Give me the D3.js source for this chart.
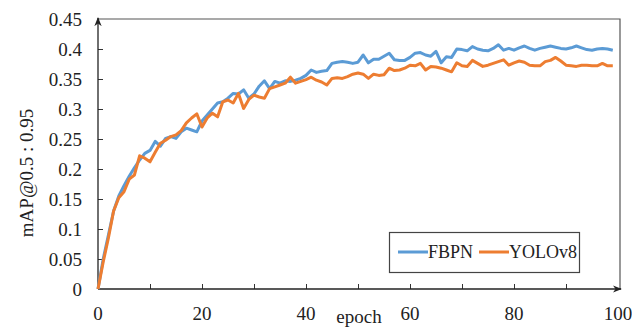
<!DOCTYPE html>
<html>
<head>
<meta charset="utf-8">
<script src="https://cdn.jsdelivr.net/npm/d3@7"></script>
<style>
  body { margin: 0; background: #fff; }
  text { font-family: "Liberation Serif", "Times New Roman", serif; fill: #222; }
</style>
</head>
<body>
<svg width="632" height="328"></svg>
<script>
// mAP@0.5:0.95 per epoch
var fbpn = [0, 0.05, 0.09, 0.13, 0.155, 0.172, 0.188, 0.202, 0.215, 0.226,
    0.231, 0.246, 0.238, 0.251, 0.254, 0.251, 0.262, 0.268, 0.265, 0.262,
    0.28, 0.29, 0.3, 0.31, 0.312, 0.318, 0.326, 0.325, 0.332, 0.318,
    0.325, 0.338, 0.347, 0.334, 0.346, 0.343, 0.347, 0.346, 0.348, 0.351,
    0.356, 0.365, 0.361, 0.363, 0.364, 0.376, 0.378, 0.379, 0.378, 0.376,
    0.378, 0.39, 0.377, 0.383, 0.383, 0.388, 0.393, 0.382, 0.381, 0.381,
    0.386, 0.393, 0.394, 0.39, 0.388, 0.396, 0.377, 0.387, 0.386, 0.4,
    0.399, 0.397, 0.404, 0.4, 0.398, 0.397, 0.401, 0.407, 0.398, 0.401,
    0.398, 0.402, 0.405, 0.401, 0.398, 0.401, 0.403, 0.405, 0.403, 0.401,
    0.4, 0.402, 0.405, 0.402, 0.399, 0.398, 0.4, 0.401, 0.4, 0.398];

var yolov8 = [0, 0.045, 0.085, 0.13, 0.152, 0.162, 0.183, 0.19, 0.222, 0.218,
    0.212, 0.228, 0.243, 0.248, 0.254, 0.257, 0.264, 0.277, 0.285, 0.292,
    0.27, 0.285, 0.293, 0.287, 0.312, 0.315, 0.31, 0.326, 0.301, 0.316,
    0.323, 0.32, 0.318, 0.334, 0.337, 0.34, 0.343, 0.353, 0.343, 0.346,
    0.349, 0.353, 0.348, 0.345, 0.34, 0.351, 0.352, 0.351, 0.354, 0.358,
    0.36, 0.358, 0.351, 0.358, 0.356, 0.357, 0.368, 0.364, 0.365, 0.368,
    0.373, 0.372, 0.376, 0.365, 0.371, 0.37, 0.368, 0.365, 0.362, 0.377,
    0.372, 0.371, 0.381, 0.376, 0.371, 0.373, 0.376, 0.379, 0.382, 0.373,
    0.377, 0.38, 0.378, 0.373, 0.372, 0.372, 0.379, 0.381, 0.386, 0.38,
    0.373, 0.372, 0.371, 0.373, 0.373, 0.372, 0.372, 0.376, 0.372, 0.372];

var seriesNames = ["FBPN", "YOLOv8"];
var seriesColors = ["#5b9bd5", "#ed7d31"];
var xTicks = [0, 20, 40, 60, 80, 100];
var yTicks = [0, 0.05, 0.1, 0.15, 0.2, 0.25, 0.3, 0.35, 0.4, 0.45];

var svg = d3.select("svg");
var plotL = 98, plotR = 618, plotT = 19, plotB = 289;

var x = d3.scaleLinear().domain([0, 100]).range([plotL, plotR]);
var y = d3.scaleLinear().domain([0, 0.45]).range([plotB, plotT]);

var defs = svg.append("defs");
defs.append("marker")
    .attr("id", "arrow")
    .attr("viewBox", "0 0 10 10")
    .attr("refX", 9).attr("refY", 5)
    .attr("markerWidth", 7).attr("markerHeight", 7)
    .attr("orient", "auto")
    .append("path")
    .attr("d", "M0,1 L10,5 L0,9 L3,5 Z")
    .attr("fill", "#222");

// frame: top and right
svg.append("path")
    .attr("d", "M" + plotL + "," + plotT + "H620V" + plotB)
    .attr("fill", "none")
    .attr("stroke", "#555")
    .attr("stroke-width", 1.2);

// y axis
var yAxis = d3.axisRight(y).tickValues(yTicks.slice(1, -1)).tickSize(5).tickFormat("");
var gy = svg.append("g").attr("transform", "translate(" + plotL + ",0)").call(yAxis);
gy.select(".domain").remove();
gy.selectAll("line").attr("stroke", "#333");

// x axis
var xAxis = d3.axisTop(x).tickValues(d3.range(10, 100, 10)).tickSize(5).tickFormat("");
var gx = svg.append("g").attr("transform", "translate(0," + plotB + ")").call(xAxis);
gx.select(".domain").remove();
gx.selectAll("line").attr("stroke", "#333");

svg.append("line")
    .attr("x1", plotL).attr("y1", plotB).attr("x2", plotL).attr("y2", plotT - 1)
    .attr("stroke", "#222").attr("stroke-width", 1.3)
    .attr("marker-end", "url(#arrow)");
svg.append("line")
    .attr("x1", plotL).attr("y1", plotB).attr("x2", 621).attr("y2", plotB)
    .attr("stroke", "#222").attr("stroke-width", 1.3)
    .attr("marker-end", "url(#arrow)");

// tick labels
svg.selectAll(".ylab")
    .data(yTicks)
    .enter().append("text")
    .attr("class", "ylab")
    .attr("x", 82)
    .attr("y", function(d) { return y(d); })
    .attr("dy", "0.35em")
    .attr("text-anchor", "end")
    .attr("font-size", 19)
    .text(function(d) { return d; });

svg.selectAll(".xlab")
    .data(xTicks)
    .enter().append("text")
    .attr("class", "xlab")
    .attr("x", function(d) { return x(d); })
    .attr("y", 320)
    .attr("text-anchor", "middle")
    .attr("font-size", 19)
    .text(function(d) { return d; });

svg.append("text")
    .attr("x", 359).attr("y", 323)
    .attr("text-anchor", "middle")
    .attr("font-size", 19)
    .text("epoch");

svg.append("text")
    .attr("transform", "translate(33,173) rotate(-90)")
    .attr("text-anchor", "middle")
    .attr("font-size", 19)
    .text("mAP@0.5 : 0.95");

// lines
var line = d3.line()
    .x(function(d, i) { return x(i); })
    .y(function(d) { return y(d); });

[fbpn, yolov8].forEach(function(vals, k) {
    svg.append("path")
        .datum(vals)
        .attr("fill", "none")
        .attr("stroke", seriesColors[k])
        .attr("stroke-width", 3)
        .attr("stroke-linejoin", "round")
        .attr("d", line);
});

// legend
var legend = svg.append("g");
legend.append("rect")
    .attr("x", 389.5).attr("y", 232.5)
    .attr("width", 190).attr("height", 40)
    .attr("fill", "#fff")
    .attr("stroke", "#444")
    .attr("stroke-width", 1.2);

var legendX = [398, 479];
seriesNames.forEach(function(name, k) {
    legend.append("line")
        .attr("x1", legendX[k]).attr("x2", legendX[k] + 30)
        .attr("y1", 252).attr("y2", 252)
        .attr("stroke", seriesColors[k])
        .attr("stroke-width", 3);
    legend.append("text")
        .attr("x", legendX[k] + 30).attr("y", 258)
        .attr("font-size", 18)
        .text(name);
});
</script>
</body>
</html>
